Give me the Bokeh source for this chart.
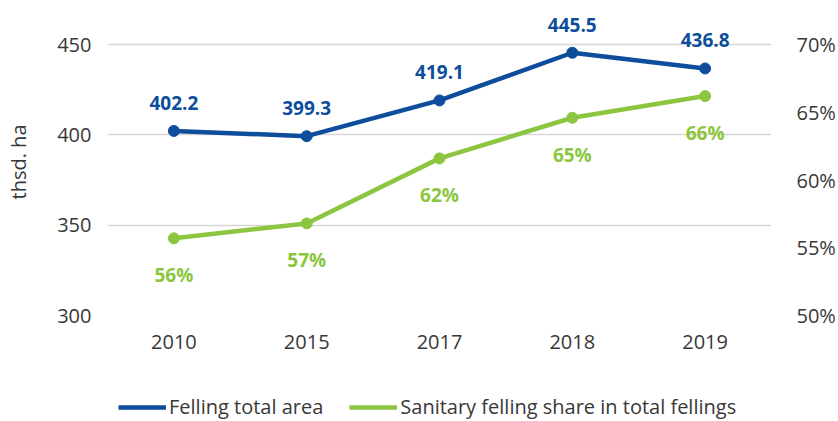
from bokeh.plotting import figure
from bokeh.layouts import column
from bokeh.models import (ColumnDataSource, Range1d, LinearAxis, FixedTicker,
                          PrintfTickFormatter, LabelSet, Legend, LegendItem, FactorRange)
from bokeh.core.properties import value
from bokeh.embed import file_html
from bokeh.resources import INLINE

years = ["2010", "2015", "2017", "2018", "2019"]
area = [402.2, 399.3, 419.1, 445.5, 436.8]
share = [55.7, 56.8, 61.6, 64.6, 66.2]
share_labels = ["56%", "57%", "62%", "65%", "66%"]
left_ticks = [300, 350, 400, 450]
right_ticks = [50, 55, 60, 65, 70]
series_names = ["Felling total area", "Sanitary felling share in total fellings"]

BLUE = "#0D4D9C"
GREEN = "#8CC640"
TXT = "#383838"
FONT = "Open Sans"

src = ColumnDataSource(dict(
    year=years, area=area, share=share,
    area_label=[f"{v:.1f}" for v in area],
    share_label=share_labels,
))

p = figure(width=838, height=380, x_range=FactorRange(factors=years),
           y_range=Range1d(300, 470), output_backend="svg", toolbar_location=None,
           min_border_left=107, min_border_right=65, min_border_top=8, min_border_bottom=65)
p.outline_line_color = None
p.background_fill_color = "white"
p.extra_y_ranges = {"pct": Range1d(50, 50 + 170 / 7.5)}

# grid
p.xgrid.grid_line_color = None
p.ygrid.ticker = FixedTicker(ticks=left_ticks)
p.ygrid.grid_line_color = "#D6D6D6"
p.ygrid.grid_line_width = 1.5

# left axis
ya = p.yaxis[0]
ya.ticker = FixedTicker(ticks=left_ticks)
ya.axis_label = "thsd. ha"
ya.axis_label_text_font = FONT
ya.axis_label_text_font_size = "20px"
ya.axis_label_text_font_style = "normal"
ya.axis_label_text_color = TXT
ya.axis_label_standoff = 22
ya.major_label_text_font = FONT
ya.major_label_text_font_size = "20px"
ya.major_label_text_color = TXT
ya.major_label_standoff = 10
ya.axis_line_color = None
ya.major_tick_line_color = None
ya.minor_tick_line_color = None

# right axis
ra = LinearAxis(y_range_name="pct", ticker=FixedTicker(ticks=right_ticks),
                formatter=PrintfTickFormatter(format="%d%%"))
ra.major_label_text_font = FONT
ra.major_label_text_font_size = "20px"
ra.major_label_text_color = TXT
ra.major_label_standoff = 19
ra.axis_line_color = None
ra.major_tick_line_color = None
ra.minor_tick_line_color = None
p.add_layout(ra, "right")

# x axis
xa = p.xaxis[0]
xa.major_label_text_font = FONT
xa.major_label_text_font_size = "20px"
xa.major_label_text_color = TXT
xa.major_label_standoff = 13
xa.axis_line_color = None
xa.major_tick_line_color = None
xa.minor_tick_line_color = None

# series
p.line("year", "area", source=src, line_color=BLUE, line_width=4.5)
p.scatter("year", "area", source=src, size=11, fill_color=BLUE, line_color=BLUE)
p.line("year", "share", source=src, line_color=GREEN, line_width=4.5, y_range_name="pct")
p.scatter("year", "share", source=src, size=11, fill_color=GREEN, line_color=GREEN, y_range_name="pct")

lab1 = LabelSet(x="year", y="area", text="area_label", source=src, y_offset=28,
                text_align="center", text_baseline="middle", text_font=value(FONT),
                text_font_size=value("19px"), text_font_style=value("bold"), text_color=value(BLUE))
lab2 = LabelSet(x="year", y="share", text="share_label", source=src, y_offset=-37,
                y_range_name="pct", text_align="center", text_baseline="middle",
                text_font=value(FONT), text_font_size=value("19px"),
                text_font_style=value("bold"), text_color=value(GREEN))
p.add_layout(lab1)
p.add_layout(lab2)

# legend strip below the chart (its series lie outside its own y range, so only the legend shows)
pl = figure(width=838, height=41, x_range=FactorRange(factors=years), y_range=Range1d(0, 1),
            x_axis_type=None, y_axis_type=None, output_backend="svg", toolbar_location=None,
            min_border_left=107, min_border_right=65, min_border_top=0, min_border_bottom=0)
pl.outline_line_color = None
pl.grid.visible = False
e1 = pl.line("year", "area", source=src, line_color=BLUE, line_width=4.5)
e2 = pl.line("year", "share", source=src, line_color=GREEN, line_width=4.5)
legend = Legend(items=[LegendItem(label=series_names[0], renderers=[e1]),
                       LegendItem(label=series_names[1], renderers=[e2])],
                location=(11, 1), orientation="horizontal")
legend.background_fill_alpha = 0
legend.border_line_alpha = 0
legend.padding = 0
legend.margin = 0
legend.spacing = 26
legend.glyph_width = 48
legend.label_standoff = 3
legend.label_text_font = FONT
legend.label_text_font_size = "20px"
legend.label_text_color = TXT
pl.add_layout(legend)

open("out.html", "w").write(file_html(column(p, pl, spacing=0), INLINE))
